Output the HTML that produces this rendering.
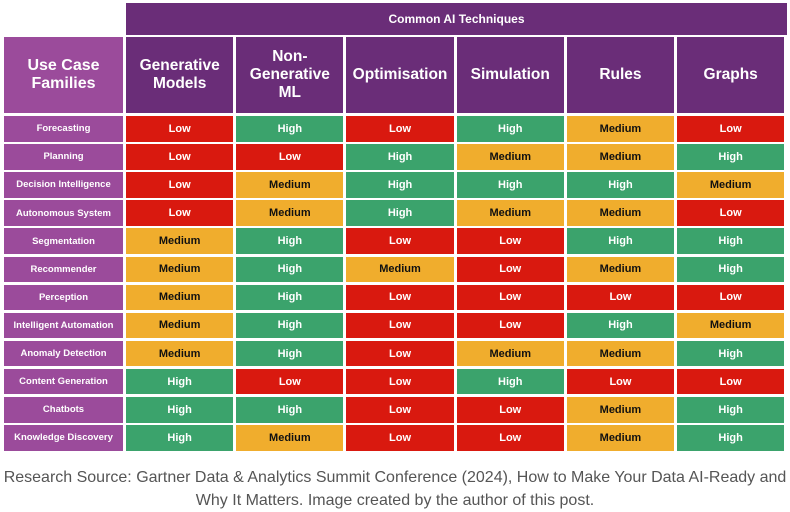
<!DOCTYPE html>
<html><head><meta charset="utf-8"><style>
body{margin:0;width:790px;height:510px;background:#fff;position:relative;overflow:hidden;font-family:"Liberation Sans",sans-serif}
.c{position:absolute;display:flex;align-items:center;justify-content:center;text-align:center;font-weight:bold;box-sizing:border-box}
#cap{position:absolute;left:0;top:466px;width:790px;text-align:center;color:#555;font-size:16px;line-height:23px}
</style></head><body>
<div id="tbl"></div>
<div id="cap">Research Source: Gartner Data &amp; Analytics Summit Conference (2024), How to Make Your Data AI-Ready and<br>Why It Matters. Image created by the author of this post.</div>
<script>
const techniques=["Generative Models","Non-Generative ML","Optimisation","Simulation","Rules","Graphs"];
const useCases=["Forecasting","Planning","Decision Intelligence","Autonomous System","Segmentation","Recommender","Perception","Intelligent Automation","Anomaly Detection","Content Generation","Chatbots","Knowledge Discovery"];
const ratings=[
["Low","High","Low","High","Medium","Low"],
["Low","Low","High","Medium","Medium","High"],
["Low","Medium","High","High","High","Medium"],
["Low","Medium","High","Medium","Medium","Low"],
["Medium","High","Low","Low","High","High"],
["Medium","High","Medium","Low","Medium","High"],
["Medium","High","Low","Low","Low","Low"],
["Medium","High","Low","Low","High","Medium"],
["Medium","High","Low","Medium","Medium","High"],
["High","Low","Low","High","Low","Low"],
["High","High","Low","Low","Medium","High"],
["High","Medium","Low","Low","Medium","High"]];
const colors={Low:"#d9190f",Medium:"#f0ad2d",High:"#3ba36c"};
const t=document.getElementById('tbl');
function box(x,y,w,h,bg,txt,fs,col){const d=document.createElement('div');d.className='c';
d.style.cssText+=`left:${x}px;top:${y}px;width:${w}px;height:${h}px;background:${bg};font-size:${fs}px;color:${col}`;
d.innerHTML=txt;t.appendChild(d);return d;}
const x0=126,cw=107.3,pitch=110.2,y0=116,rh=25.6,rp=28.1;
let h=box(x0,3,787-x0,32,"#6a2d78","Common AI Techniques",12,"#fff");


h=box(4,37,119,76,"#9b4b9b","Use Case<br>Families",16,"#fff");


const hdr=["Generative<br>Models","Non-<br>Generative<br>ML","Optimisation","Simulation","Rules","Graphs"];
techniques.forEach((tn,j)=>{const d=box(x0+j*pitch,37,cw,76,"#6a2d78",hdr[j],15.5,"#fff");

});
useCases.forEach((u,i)=>{const y=y0+i*rp;
const d=box(4,y,119,rh,"#9b4b9b",u,9.5,"#fff");


ratings[i].forEach((r,j)=>{const c=box(x0+j*pitch,y,cw,rh,colors[r],r,11,r==="Medium"?"#111":"#fff");

});});
</script>
</body></html>
